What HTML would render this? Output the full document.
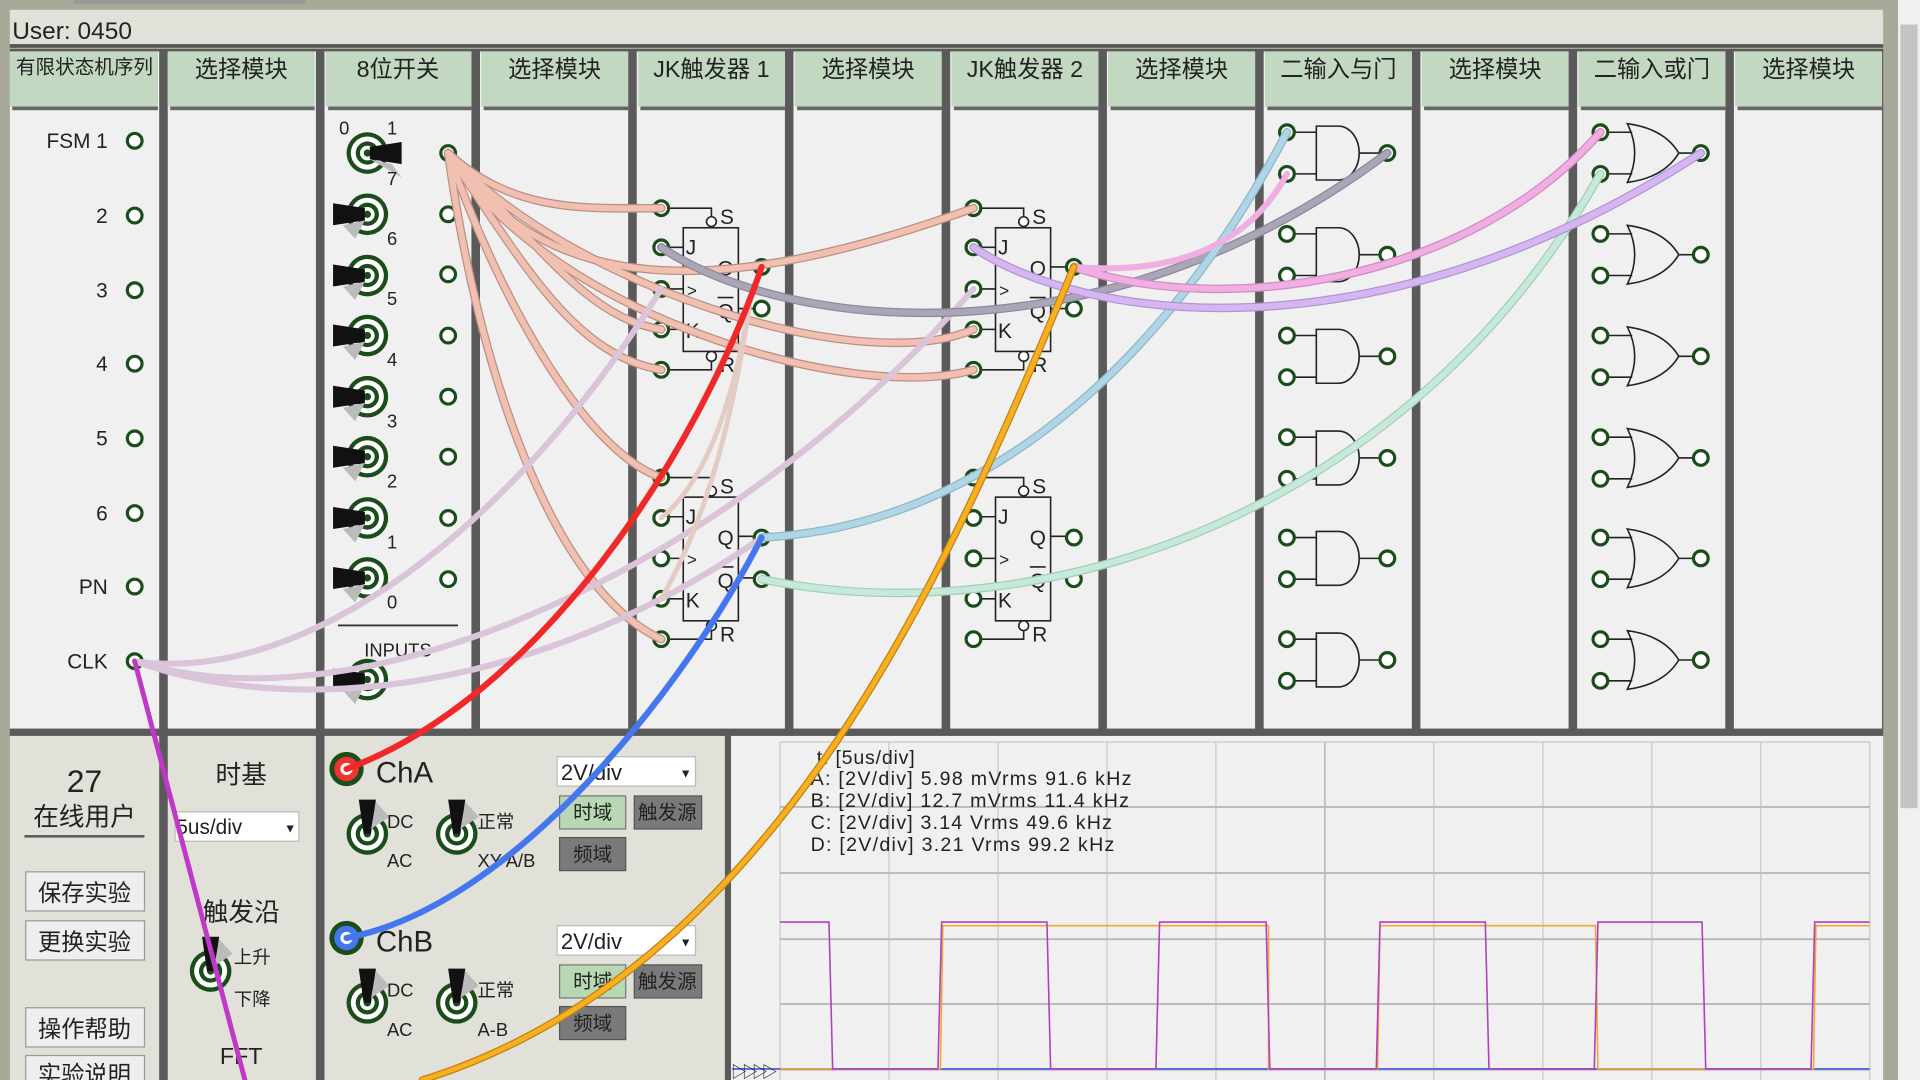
<!DOCTYPE html>
<html><head><meta charset="utf-8"><style>
html,body{margin:0;padding:0;width:1920px;height:1080px;overflow:hidden;background:#a9a999}
svg{display:block}
text{font-family:"Liberation Sans","Noto Sans CJK SC",sans-serif;fill:#222}
</style></head><body>
<svg width="1920" height="1080" viewBox="0 0 1568 882" xmlns="http://www.w3.org/2000/svg">
<defs>
<g id="pin"><circle r="6" fill="#fff" stroke="#1a4d1a" stroke-width="2.6"/></g>
<g id="knob"><circle r="17" fill="#1a4d1a"/><circle r="13.5" fill="#fff"/><circle r="9.5" fill="#1a4d1a"/><circle r="6" fill="#fff"/><circle r="3" fill="#1a4d1a"/></g>
<g id="swL"><use href="#knob"/><path d="M-28,-9 L-2,-5 L-2,5 L-28,9 Z" fill="#111"/><path d="M-20,9 L-2,5 L-10,20 Z" fill="#bbb"/></g>
<g id="swR"><use href="#knob"/><path d="M28,-9 L2,-5 L2,5 L28,9 Z" fill="#111"/><path d="M20,9 L2,5 L28,20 Z" fill="#bbb"/></g>
<g id="swU"><use href="#knob"/><path d="M-7,-28 L-3,0 L3,0 L7,-28 Z" fill="#111"/><path d="M7,-26 L3,-4 L18,-14 Z" fill="#bbb"/></g>
<g id="jk" fill="none" stroke="#222" stroke-width="1.3">
<rect x="18" y="16" width="45" height="101" fill="none"/>
<path d="M6,0 H41 V8 M6,32 H18 M6,66 H18 M6,99 H18 M6,132 H41 V124 M63,48 H76 M63,82 H76"/>
<circle cx="41" cy="11" r="4" fill="#fff"/><circle cx="41" cy="121" r="4" fill="#fff"/>
<text x="48" y="13" font-size="17" stroke="none" fill="#222">S</text>
<text x="48" y="134" font-size="17" stroke="none" fill="#222">R</text>
<text x="20" y="38" font-size="17" stroke="none" fill="#222">J</text>
<text x="21" y="72" font-size="14" stroke="none" fill="#222">&gt;</text>
<text x="20" y="106" font-size="17" stroke="none" fill="#222">K</text>
<text x="46" y="55" font-size="17" stroke="none" fill="#222">Q</text>
<text x="46" y="90" font-size="17" stroke="none" fill="#222">Q</text>
<path d="M46,73 H59" stroke-width="1.3"/>
</g>
<g id="and" fill="none" stroke="#222" stroke-width="1.3"><path d="M6,-17 H24 M6,17 H24 M24,-22 H42 A17,22 0 0 1 42,22 H24 Z M59,0 H76"/></g>
<g id="or" fill="none" stroke="#222" stroke-width="1.3"><path d="M6,-17 H26 M6,17 H26 M22,-24 Q52,-20 64,0 Q52,20 22,24 Q34,0 22,-24 Z M64,0 H76"/></g>
</defs>

<rect x="60" y="0" width="190" height="3" fill="#999"/>
<rect x="8" y="8" width="1530" height="29" fill="#e1e1d9"/>
<rect x="8" y="36" width="1530" height="3" fill="#555"/>
<text x="10" y="32" font-size="20" fill="#333">User: 0450</text>
<rect x="1550" y="0" width="18" height="882" fill="#f0f0f0"/>
<rect x="1552" y="20" width="14" height="640" fill="#c4c4c4"/>
<rect x="1538" y="0" width="12" height="882" fill="#a9a999"/>

<g>
<rect x="8" y="40" width="1530" height="557" fill="#5a5a5a"/>
<rect x="8" y="42" width="122" height="553" fill="#f0f0f0"/>
<rect x="137" y="42" width="121" height="553" fill="#f0f0f0"/>
<rect x="265" y="42" width="120" height="553" fill="#f0f0f0"/>
<rect x="392" y="42" width="121" height="553" fill="#f0f0f0"/>
<rect x="520" y="42" width="121" height="553" fill="#f0f0f0"/>
<rect x="648" y="42" width="121" height="553" fill="#f0f0f0"/>
<rect x="776" y="42" width="121" height="553" fill="#f0f0f0"/>
<rect x="904" y="42" width="121" height="553" fill="#f0f0f0"/>
<rect x="1032" y="42" width="121" height="553" fill="#f0f0f0"/>
<rect x="1160" y="42" width="121" height="553" fill="#f0f0f0"/>
<rect x="1288" y="42" width="121" height="553" fill="#f0f0f0"/>
<rect x="1416" y="42" width="121" height="553" fill="#f0f0f0"/>
</g>
<g fill="#c2d8c1">
<rect x="8" y="42" width="121" height="45"/><rect x="137" y="42" width="120" height="45"/><rect x="266" y="42" width="119" height="45"/><rect x="393" y="42" width="120" height="45"/><rect x="521" y="42" width="120" height="45"/><rect x="649" y="42" width="120" height="45"/><rect x="777" y="42" width="120" height="45"/><rect x="905" y="42" width="120" height="45"/><rect x="1033" y="42" width="120" height="45"/><rect x="1161" y="42" width="120" height="45"/><rect x="1289" y="42" width="120" height="45"/><rect x="1417" y="42" width="120" height="45"/>
</g>
<g fill="#666">
<rect x="10" y="87" width="119" height="3"/><rect x="139" y="87" width="118" height="3"/><rect x="268" y="87" width="117" height="3"/><rect x="395" y="87" width="118" height="3"/><rect x="523" y="87" width="118" height="3"/><rect x="651" y="87" width="118" height="3"/><rect x="779" y="87" width="118" height="3"/><rect x="907" y="87" width="118" height="3"/><rect x="1035" y="87" width="118" height="3"/><rect x="1163" y="87" width="118" height="3"/><rect x="1291" y="87" width="118" height="3"/><rect x="1419" y="87" width="118" height="3"/>
</g>
<g font-size="19" text-anchor="middle">
<text x="69" y="60" font-size="16">有限状态机序列</text>
<text x="197" y="63">选择模块</text>
<text x="325" y="63">8位开关</text>
<text x="453" y="63">选择模块</text>
<text x="581" y="63">JK触发器 1</text>
<text x="709" y="63">选择模块</text>
<text x="837" y="63">JK触发器 2</text>
<text x="965" y="63">选择模块</text>
<text x="1093" y="63">二输入与门</text>
<text x="1221" y="63">选择模块</text>
<text x="1349" y="63">二输入或门</text>
<text x="1477" y="63">选择模块</text>
</g>

<g font-size="17" text-anchor="end">
<text x="88" y="121">FSM 1</text><text x="88" y="182">2</text><text x="88" y="243">3</text><text x="88" y="303">4</text><text x="88" y="364">5</text><text x="88" y="425">6</text><text x="88" y="485">PN</text><text x="88" y="546">CLK</text>
</g>
<use href="#pin" x="110" y="115"/><use href="#pin" x="110" y="176"/><use href="#pin" x="110" y="237"/><use href="#pin" x="110" y="297"/><use href="#pin" x="110" y="358"/><use href="#pin" x="110" y="419"/><use href="#pin" x="110" y="479"/><use href="#pin" x="110" y="540"/>

<text x="277" y="110" font-size="15">0</text><text x="316" y="110" font-size="15">1</text>
<use href="#swR" x="300" y="125"/><use href="#swL" x="300" y="175"/><use href="#swL" x="300" y="225"/><use href="#swL" x="300" y="274"/><use href="#swL" x="300" y="324"/><use href="#swL" x="300" y="373"/><use href="#swL" x="300" y="423"/><use href="#swL" x="300" y="472"/>
<g font-size="15"><text x="316" y="151">7</text><text x="316" y="200">6</text><text x="316" y="249">5</text><text x="316" y="299">4</text><text x="316" y="349">3</text><text x="316" y="398">2</text><text x="316" y="448">1</text><text x="316" y="497">0</text></g>
<rect x="276" y="510" width="98" height="1.5" fill="#333"/>
<text x="325" y="536" font-size="15" text-anchor="middle">INPUTS</text>
<use href="#swL" x="300" y="555"/>
<use href="#pin" x="366" y="125"/><use href="#pin" x="366" y="175"/><use href="#pin" x="366" y="224"/><use href="#pin" x="366" y="274"/><use href="#pin" x="366" y="324"/><use href="#pin" x="366" y="373"/><use href="#pin" x="366" y="423"/><use href="#pin" x="366" y="473"/>

<use href="#jk" x="540" y="170"/><use href="#jk" x="540" y="390"/><use href="#jk" x="795" y="170"/><use href="#jk" x="795" y="390"/>
<g>
<use href="#pin" x="540" y="170"/><use href="#pin" x="540" y="202"/><use href="#pin" x="540" y="236"/><use href="#pin" x="540" y="269"/><use href="#pin" x="540" y="302"/><use href="#pin" x="622" y="218"/><use href="#pin" x="622" y="252"/>
<use href="#pin" x="540" y="390"/><use href="#pin" x="540" y="423"/><use href="#pin" x="540" y="456"/><use href="#pin" x="540" y="489"/><use href="#pin" x="540" y="522"/><use href="#pin" x="622" y="439"/><use href="#pin" x="622" y="473"/>
<use href="#pin" x="795" y="170"/><use href="#pin" x="795" y="202"/><use href="#pin" x="795" y="236"/><use href="#pin" x="795" y="269"/><use href="#pin" x="795" y="302"/><use href="#pin" x="877" y="218"/><use href="#pin" x="877" y="252"/>
<use href="#pin" x="795" y="390"/><use href="#pin" x="795" y="423"/><use href="#pin" x="795" y="456"/><use href="#pin" x="795" y="489"/><use href="#pin" x="795" y="522"/><use href="#pin" x="877" y="439"/><use href="#pin" x="877" y="473"/>
</g>

<g>
<use href="#and" x="1051" y="125"/><use href="#and" x="1051" y="208"/><use href="#and" x="1051" y="291"/><use href="#and" x="1051" y="374"/><use href="#and" x="1051" y="456"/><use href="#and" x="1051" y="539"/>
<use href="#or" x="1307" y="125"/><use href="#or" x="1307" y="208"/><use href="#or" x="1307" y="291"/><use href="#or" x="1307" y="374"/><use href="#or" x="1307" y="456"/><use href="#or" x="1307" y="539"/>
</g>
<g>
<use href="#pin" x="1051" y="108"/><use href="#pin" x="1051" y="142"/><use href="#pin" x="1133" y="125"/>
<use href="#pin" x="1051" y="191"/><use href="#pin" x="1051" y="225"/><use href="#pin" x="1133" y="208"/>
<use href="#pin" x="1051" y="274"/><use href="#pin" x="1051" y="308"/><use href="#pin" x="1133" y="291"/>
<use href="#pin" x="1051" y="357"/><use href="#pin" x="1051" y="391"/><use href="#pin" x="1133" y="374"/>
<use href="#pin" x="1051" y="439"/><use href="#pin" x="1051" y="473"/><use href="#pin" x="1133" y="456"/>
<use href="#pin" x="1051" y="522"/><use href="#pin" x="1051" y="556"/><use href="#pin" x="1133" y="539"/>
<use href="#pin" x="1307" y="108"/><use href="#pin" x="1307" y="142"/><use href="#pin" x="1389" y="125"/>
<use href="#pin" x="1307" y="191"/><use href="#pin" x="1307" y="225"/><use href="#pin" x="1389" y="208"/>
<use href="#pin" x="1307" y="274"/><use href="#pin" x="1307" y="308"/><use href="#pin" x="1389" y="291"/>
<use href="#pin" x="1307" y="357"/><use href="#pin" x="1307" y="391"/><use href="#pin" x="1389" y="374"/>
<use href="#pin" x="1307" y="439"/><use href="#pin" x="1307" y="473"/><use href="#pin" x="1389" y="456"/>
<use href="#pin" x="1307" y="522"/><use href="#pin" x="1307" y="556"/><use href="#pin" x="1389" y="539"/>
</g>

<rect x="8" y="597" width="1530" height="285" fill="#5a5a5a"/>
<rect x="8" y="601" width="122" height="281" fill="#e1e1d9"/>
<rect x="137" y="601" width="121" height="281" fill="#e1e1d9"/>
<rect x="265" y="601" width="327" height="281" fill="#e1e1d9"/>
<rect x="597" y="601" width="941" height="281" fill="#f0f0f0"/>

<text x="69" y="647" font-size="26" text-anchor="middle">27</text>
<text x="69" y="674" font-size="21" text-anchor="middle">在线用户</text>
<rect x="20" y="682" width="98" height="2" fill="#555"/>
<g font-size="19" text-anchor="middle">
<rect x="21" y="712" width="97" height="32" fill="#eee" stroke="#999"/><text x="69" y="736">保存实验</text>
<rect x="21" y="752" width="97" height="32" fill="#eee" stroke="#999"/><text x="69" y="776">更换实验</text>
<rect x="21" y="823" width="97" height="32" fill="#eee" stroke="#999"/><text x="69" y="847">操作帮助</text>
<rect x="21" y="862" width="97" height="32" fill="#eee" stroke="#999"/><text x="69" y="884">实验说明</text>
</g>

<text x="197" y="640" font-size="21" text-anchor="middle">时基</text>
<rect x="143" y="663" width="101" height="24" fill="#fff" stroke="#bbb"/>
<text x="144" y="681" font-size="17">5us/div</text><text x="232" y="680" font-size="10">▼</text>
<text x="197" y="752" font-size="21" text-anchor="middle">触发沿</text>
<use href="#swU" x="172" y="793"/>
<text x="191" y="787" font-size="15">上升</text><text x="191" y="821" font-size="15">下降</text>
<text x="197" y="869" font-size="19" text-anchor="middle">FFT</text>

<circle cx="283" cy="628" r="14" fill="#1a4d1a"/><circle cx="283" cy="628" r="10" fill="#e33"/><circle cx="283" cy="628" r="5" fill="#fff"/>
<text x="307" y="639" font-size="24">ChA</text>
<circle cx="283" cy="766" r="14" fill="#1a4d1a"/><circle cx="283" cy="766" r="10" fill="#4477ee"/><circle cx="283" cy="766" r="5" fill="#fff"/>
<text x="307" y="777" font-size="24">ChB</text>
<use href="#swU" x="300" y="681"/><use href="#swU" x="373" y="681"/>
<use href="#swU" x="300" y="819"/><use href="#swU" x="373" y="819"/>
<g font-size="15">
<text x="316" y="676">DC</text><text x="316" y="708">AC</text><text x="390" y="676">正常</text><text x="390" y="708">XY A/B</text>
<text x="316" y="814">DC</text><text x="316" y="846">AC</text><text x="390" y="814">正常</text><text x="390" y="846">A-B</text>
</g>
<g>
<rect x="455" y="618" width="113" height="24" fill="#fff" stroke="#bbb"/><text x="458" y="637" font-size="18">2V/div</text><text x="555" y="635" font-size="10">▼</text>
<rect x="455" y="756" width="113" height="24" fill="#fff" stroke="#bbb"/><text x="458" y="775" font-size="18">2V/div</text><text x="555" y="773" font-size="10">▼</text>
</g>
<g font-size="16" text-anchor="middle">
<rect x="457" y="650" width="54" height="27" fill="#b8d8b4" stroke="#777"/><text x="484" y="669" fill="#555">时域</text>
<rect x="518" y="650" width="55" height="27" fill="#7a7a7a" stroke="#555"/><text x="545" y="669">触发源</text>
<rect x="457" y="684" width="54" height="27" fill="#7a7a7a" stroke="#555"/><text x="484" y="703">频域</text>
<rect x="457" y="788" width="54" height="27" fill="#b8d8b4" stroke="#777"/><text x="484" y="807" fill="#555">时域</text>
<rect x="518" y="788" width="55" height="27" fill="#7a7a7a" stroke="#555"/><text x="545" y="807">触发源</text>
<rect x="457" y="822" width="54" height="27" fill="#7a7a7a" stroke="#555"/><text x="484" y="841">频域</text>
</g>

<g stroke="#c8c8c8" stroke-width="1">
<path d="M637,606 V882 M726,606 V882 M815,606 V882 M904,606 V882 M993,606 V882 M1171,606 V882 M1260,606 V882 M1349,606 V882 M1438,606 V882 M1527,606 V882"/>
<path d="M1082,606 V882" stroke="#aaa"/>
<path d="M637,606 H1527 M637,874 H1527" />
<path d="M637,659 H1527 M637,713 H1527 M637,767 H1527 M637,820 H1527" stroke="#b8b8b8" stroke-width="1.6"/>
</g>
<g font-size="16" fill="#555">
<text x="667" y="624" fill="#555" textLength="80">t: [5us/div]</text>
<text x="662" y="641" fill="#555" textLength="262">A: [2V/div] 5.98 mVrms  91.6 kHz</text>
<text x="662" y="659" fill="#555" textLength="260">B: [2V/div] 12.7 mVrms  11.4 kHz</text>
<text x="662" y="677" fill="#555" textLength="246">C: [2V/div] 3.14 Vrms  49.6 kHz</text>
<text x="662" y="695" fill="#555" textLength="248">D: [2V/div] 3.21 Vrms  99.2 kHz</text>
</g>
<path d="M598,873 H1527" stroke="#5566dd" stroke-width="1.5"/>
<path d="M637,873 H768 L770,756 H856 L858,756 H946 L948,756 H1036 V873 H1125 L1127,756 H1214 L1216,756 H1303 L1305,873 H1481 L1483,756 H1527" fill="none" stroke="#f0a830" stroke-width="1.3"/>
<path d="M637,753 H677 L680,873 H766 L769,753 H855 L858,873 H944 L947,753 H1034 L1037,873 H1124 L1127,753 H1213 L1216,873 H1302 L1305,753 H1390 L1393,873 H1479 L1482,753 H1527" fill="none" stroke="#b040c0" stroke-width="1.3"/>
<text x="597" y="880" font-size="13" fill="#e33">▷</text><text x="606" y="880" font-size="13" fill="#46e">▷</text><text x="614" y="880" font-size="13" fill="#e9a020">▷</text><text x="622" y="880" font-size="13" fill="#b4c">▷</text>

<g fill="none" stroke-linecap="round">
<g stroke="#b88f85" stroke-width="7">
<path d="M366,125 C420,175 480,170 540,170"/>
<path d="M366,125 C430,220 470,290 540,302"/>
<path d="M366,125 C440,200 480,260 540,269"/>
<path d="M366,125 C450,250 600,240 795,170"/>
<path d="M366,125 C460,230 700,310 795,269"/>
<path d="M366,125 C450,260 700,330 795,302"/>
<path d="M366,125 C410,250 480,370 540,390"/>
<path d="M366,125 C390,300 450,480 540,522"/>
</g>
<g stroke="#f1c0b1" stroke-width="5">
<path d="M366,125 C420,175 480,170 540,170"/>
<path d="M366,125 C430,220 470,290 540,302"/>
<path d="M366,125 C440,200 480,260 540,269"/>
<path d="M366,125 C450,250 600,240 795,170"/>
<path d="M366,125 C460,230 700,310 795,269"/>
<path d="M366,125 C450,260 700,330 795,302"/>
<path d="M366,125 C410,250 480,370 540,390"/>
<path d="M366,125 C390,300 450,480 540,522"/>
</g>
<path d="M110,540 C250,560 420,430 540,236" stroke="#d9c4da" stroke-width="5"/>
<path d="M110,540 C300,600 600,460 795,236" stroke="#d9c4da" stroke-width="5"/>
<path d="M110,540 C250,590 450,560 622,439" stroke="#d9c4da" stroke-width="5"/>
<path d="M540,423 C580,390 600,320 612,250" stroke="#e2ccc4" stroke-width="4"/>
<path d="M540,489 C580,420 600,330 612,250" stroke="#e2ccc4" stroke-width="4"/>
<path d="M540,202 C640,270 900,300 1133,125" stroke="#8c889c" stroke-width="7"/>
<path d="M540,202 C640,270 900,300 1133,125" stroke="#aaa6b8" stroke-width="5"/>
<path d="M622,439 C800,430 950,300 1051,108" stroke="#8fb6c6" stroke-width="7"/>
<path d="M622,439 C800,430 950,300 1051,108" stroke="#aed6e6" stroke-width="5"/>
<path d="M622,473 C850,520 1150,420 1307,142" stroke="#a5cdb9" stroke-width="7"/>
<path d="M622,473 C850,520 1150,420 1307,142" stroke="#c6ead9" stroke-width="5"/>
<path d="M877,218 C1000,260 1200,230 1307,108" stroke="#d08cc4" stroke-width="7"/>
<path d="M877,218 C1000,260 1200,230 1307,108" stroke="#f0aee2" stroke-width="5"/>
<path d="M877,218 C960,225 1020,200 1051,142" stroke="#f0aee2" stroke-width="5"/>
<path d="M795,202 C880,260 1120,300 1389,125" stroke="#b094d0" stroke-width="7"/>
<path d="M795,202 C880,260 1120,300 1389,125" stroke="#d6b6f2" stroke-width="5"/>
<path d="M110,540 L200,882" stroke="#c038c8" stroke-width="4"/>
<path d="M622,218 C570,370 440,570 283,628" stroke="#f02828" stroke-width="5"/>
<path d="M622,439 C560,560 420,740 283,766" stroke="#4477ee" stroke-width="5"/>
<path d="M877,218 C780,450 640,790 345,882" stroke="#c08010" stroke-width="6"/>
<path d="M877,218 C780,450 640,790 345,882" stroke="#f8b020" stroke-width="4"/>
</g>
</svg>
</body></html>
